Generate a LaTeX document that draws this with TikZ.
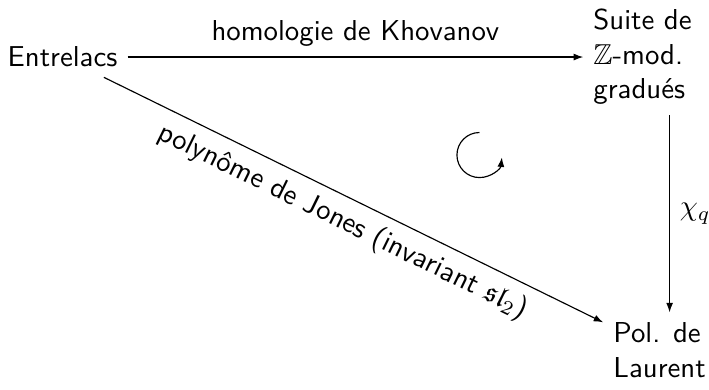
\documentclass[tikz,border=0pt]{standalone}
\usepackage{amssymb}
\usepackage{tikz}
\usetikzlibrary{arrows.meta, positioning, calc}

\begin{document}
\begin{tikzpicture}[
    obj/.style={font=\sffamily, align=left},
    fleche/.style={-{Latex[length=3.3pt, width=2.4pt]}, line width=0.4pt},
    lbl/.style={font=\sffamily}
]
\useasboundingbox (0,0) rectangle (8.652,4.759);

\node[obj] (entrelacs) at (0.763,4.063) {Entrelacs};
\node[obj, anchor=west] (suite) at (7.117,4.063) {Suite de\\ $\mathbb{Z}$-mod.\\ gradués};
\node[obj, anchor=west] (pol) at (7.361,0.488) {Pol. de\\ Laurent};

\draw[fleche] (entrelacs) -- (suite) node[midway, above, lbl] {homologie de Khovanov};
\draw[fleche] (entrelacs) -- (pol) node[midway, below, sloped, lbl] {polynôme de Jones (invariant $\mathfrak{sl}_2$)};

\coordinate (vx) at ([xshift=3.5pt]pol.north);
\draw[fleche] (suite.south -| vx) -- (vx) node[midway, right] {$\chi_q$};

% sens de parcours
\draw[fleche] (5.851,2.867) ++(90:0.275) arc (90:354:0.275);
\end{tikzpicture}
\end{document}
